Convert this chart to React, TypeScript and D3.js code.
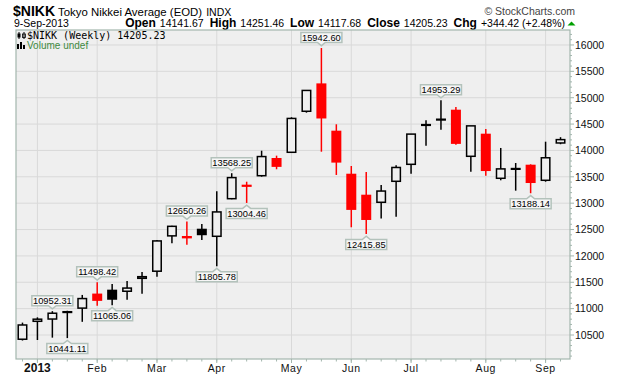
import React from "react";
import * as d3 from "d3";

const weeks = [
  "2012-12-31", "2013-01-07", "2013-01-14", "2013-01-21", "2013-01-28",
  "2013-02-04", "2013-02-11", "2013-02-18", "2013-02-25",
  "2013-03-04", "2013-03-11", "2013-03-18", "2013-03-25",
  "2013-04-01", "2013-04-08", "2013-04-15", "2013-04-22", "2013-04-29",
  "2013-05-06", "2013-05-13", "2013-05-20", "2013-05-27",
  "2013-06-03", "2013-06-10", "2013-06-17", "2013-06-24",
  "2013-07-01", "2013-07-08", "2013-07-15", "2013-07-22", "2013-07-29",
  "2013-08-05", "2013-08-12", "2013-08-19", "2013-08-26",
  "2013-09-02", "2013-09-09",
];
const opens = [
  10420, 10760, 10803, 10950, 11010,
  11280, 11354, 11330, 11575,
  11710, 12380, 12372, 12510,
  12372, 13085, 13345, 13521, 13851,
  13965, 14743, 15266, 14369,
  13553, 13155, 13017, 13415,
  13737, 14498, 14600, 14767, 13889,
  14312, 13472, 13665, 13724,
  13434, 14141.67,
];
const highs = [
  10735, 10835, 10952.31, 10960, 11260,
  11498.42, 11467, 11525, 11695,
  12300, 12570, 12650.26, 12605,
  13225, 13568.25, 13407, 13995, 13901,
  14629, 15141, 15942.6, 14496,
  13705, 13591, 13345, 13718,
  14310, 14572, 14953.29, 14824, 14460,
  14407, 14047, 13762, 13737,
  14166, 14251.46,
];
const lows = [
  10395, 10405, 10450, 10441.11, 10750,
  11055, 11065.06, 11170, 11280,
  11605, 12240, 12213, 12302,
  11805.78, 13074, 13004.46, 13502, 13643,
  13957, 14716, 13976, 13535,
  12543, 12415.85, 12710, 12744,
  13559, 14090, 14394, 14109, 13597,
  13521, 13434, 13237, 13188.14,
  13407, 14117.68,
];
const closes = [
  10690, 10800, 10913, 10927, 11191,
  11153, 11174, 11390, 11606,
  12284, 12561, 12338, 12398,
  12834, 13485, 13316, 13884, 13694,
  14607, 15138, 14612, 13775,
  12878, 12687, 13230, 13677,
  14310, 14472, 14590, 14130, 14466,
  13615, 13650, 13660, 13388,
  13861, 14205.23,
];
const yTicks = [10500, 11000, 11500, 12000, 12500, 13000, 13500, 14000, 14500, 15000, 15500, 16000];
const highCallouts = [2, 5, 11, 14, 20, 28];
const lowCallouts = [3, 6, 13, 15, 23, 34];

const symbol = "$NIKK";
const fullName = "Tokyo Nikkei Average (EOD)";
const exchange = "INDX";
const dateLabel = "9-Sep-2013";
const quoteLabels = ["Open", "High", "Low", "Close", "Chg"];
const quoteValues = ["14141.67", "14251.46", "14117.68", "14205.23", "+344.42 (+2.48%)"];
const legendMain = "$NIKK (Weekly) 14205.23";
const legendVolume = "Volume undef";
const copyright = "\u00A9 StockCharts.com";

const W = 620;
const H = 376;
const PL = 16, PR = 570, PT = 30, PB = 359;
const BG = "#efefef";
const FRAME = "#a3b6ad";
const GRID = "#d9d9d9";
const RED = "#ff0000";

export default function App() {
  const parse = d3.timeParse("%Y-%m-%d");
  const dates = weeks.map((w) => parse(w) as Date);
  const x = d3.scaleBand<string>().domain(weeks).range([15, 568]).padding(0);
  const cx = (i: number) => (x(weeks[i]) as number) + x.bandwidth() / 2;
  const y = d3.scaleLinear().domain([10045, 16284]).range([PB, PT]);

  const minorTicks = d3.range(10100, 16284, 100).filter((v) => v % 500 !== 0);

  const monthMarks: { i: number; label: string; bold: boolean }[] = [];
  dates.forEach((d, i) => {
    if (i === 0) return;
    if (d.getMonth() !== dates[i - 1].getMonth()) {
      if (d.getMonth() === 0) monthMarks.push({ i, label: d3.timeFormat("%Y")(d), bold: true });
      else monthMarks.push({ i, label: d3.timeFormat("%b")(d), bold: false });
    }
  });

  const fmt = d3.format(".2f");
  const bodyW = 10;

  const candles = weeks.map((w, i) => {
    const o = opens[i], c = closes[i], h = highs[i], l = lows[i];
    const prev = i > 0 ? closes[i - 1] : o;
    const color = i > 0 && c < prev ? RED : "#000";
    const hollow = c > o;
    const X = cx(i);
    const top = y(Math.max(o, c));
    const bot = y(Math.min(o, c));
    const bh = Math.max(bot - top, 1.6);
    return (
      <g key={w}>
        <line x1={X} x2={X} y1={y(h)} y2={y(l)} stroke={color} strokeWidth={1.5} />
        {hollow ? (
          <rect x={X - bodyW / 2 + 0.75} y={top} width={bodyW - 1.5} height={bh} fill={BG} stroke={color} strokeWidth={1.5} />
        ) : (
          <rect x={X - bodyW / 2} y={top - 0.3} width={bodyW} height={bh + 0.6} fill={color} />
        )}
      </g>
    );
  });

  const callout = (i: number, up: boolean) => {
    const X = cx(i);
    const v = up ? highs[i] : lows[i];
    const tip = y(v);
    const bw = 41, bh = 10;
    let d: string;
    let ty: number;
    if (up) {
      const bottom = tip - 5.5;
      const top = bottom - bh;
      d = `M${X - bw / 2},${top}H${X + bw / 2}V${bottom}H${X + 4}L${X},${bottom + 3.2}L${X - 4},${bottom}H${X - bw / 2}Z`;
      ty = bottom - 1.8;
    } else {
      const top = tip + 5.5;
      const bottom = top + bh;
      d = `M${X - bw / 2},${top}H${X - 4}L${X},${top - 3.2}L${X + 4},${top}H${X + bw / 2}V${bottom}H${X - bw / 2}Z`;
      ty = bottom - 1.8;
    }
    return (
      <g key={`c${i}${up}`}>
        <path d={d} fill="#f6f6f6" stroke="#b3c2bb" strokeWidth={1.5} />
        <text x={X} y={ty} textAnchor="middle" fontFamily="Liberation Sans, Arial, sans-serif" fontSize={9.3} fill="#000">
          {fmt(v)}
        </text>
      </g>
    );
  };

  return (
    <svg width={W} height={H} style={{ position: "absolute", left: 0, top: 0, background: "#fff" }} fontFamily="Liberation Sans, Arial, sans-serif">
      {/* header */}
      <text x={13} y={15.5} fontSize={14} fontWeight="bold" fill="#000">{symbol}</text>
      <text x={58} y={15.5} fontSize={11.4} fill="#000">
        {fullName}
        <tspan dx={4} fontSize={10.5}>{exchange}</tspan>
      </text>
      <text x={575} y={15} fontSize={10.5} fill="#444" textAnchor="end">{copyright}</text>
      <text x={14} y={27} fontSize={10.5} fill="#000">{dateLabel}</text>
      <text x={565} y={27} fontSize={10.5} fill="#000" textAnchor="end">
        {quoteLabels.map((lab, k) => (
          <React.Fragment key={lab}>
            <tspan fontWeight="bold" fontSize={12} dx={k === 0 ? 0 : 6}>{lab}</tspan>
            <tspan dx={4}>{quoteValues[k]}</tspan>
          </React.Fragment>
        ))}
      </text>
      <path d="M567.5,25.5L571.5,21.5L575.5,25.5Z" fill="#00a000" />

      {/* plot area */}
      <rect x={PL} y={PT} width={PR - PL} height={PB - PT} fill={BG} />
      {yTicks.map((t) => (
        <line key={t} x1={PL} x2={PR} y1={y(t)} y2={y(t)} stroke={GRID} strokeWidth={1} />
      ))}
      {monthMarks.map((m) => (
        <line key={m.label} x1={cx(m.i)} x2={cx(m.i)} y1={PT} y2={PB} stroke={GRID} strokeWidth={1} />
      ))}

      {/* legend */}
      <g>
        <line x1={19} x2={19} y1={32} y2={39} stroke="#000" strokeWidth={1} />
        <rect x={17.5} y={33.5} width={3} height={4} fill="#000" />
        <line x1={24} x2={24} y1={32} y2={39} stroke="#000" strokeWidth={1} />
        <rect x={22.5} y={34} width={3} height={3.5} fill="none" stroke="#000" strokeWidth={0.8} />
        <text x={27} y={38.5} fontFamily="DejaVu Sans Mono, monospace" fontSize={10} fill="#000">{legendMain}</text>
        <rect x={17} y={44} width={2} height={5} fill="#000" />
        <rect x={20} y={42} width={2} height={7} fill="#000" />
        <rect x={23} y={45} width={2} height={4} fill="#000" />
        <text x={27} y={48.5} fontSize={10} fill="#3f8a3f">{legendVolume}</text>
      </g>

      {candles}
      {highCallouts.map((i) => callout(i, true))}
      {lowCallouts.map((i) => callout(i, false))}

      {/* frame */}
      <rect x={PL} y={PT} width={PR - PL} height={PB - PT} fill="none" stroke={FRAME} strokeWidth={1.2} />

      {/* y axis */}
      {minorTicks.map((t) => (
        <line key={t} x1={PR} x2={PR + 2} y1={y(t)} y2={y(t)} stroke={FRAME} strokeWidth={1} />
      ))}
      {yTicks.map((t) => (
        <g key={t}>
          <line x1={PR} x2={PR + 4} y1={y(t)} y2={y(t)} stroke={FRAME} strokeWidth={1} />
          <text x={575} y={y(t) + 3.8} fontSize={10.5} fill="#111">{t}</text>
        </g>
      ))}

      {/* x axis */}
      {weeks.map((w, i) => (
        <line key={w} x1={cx(i)} x2={cx(i)} y1={PB} y2={PB + 2.5} stroke={FRAME} strokeWidth={1} />
      ))}
      {monthMarks.map((m) => (
        <g key={m.label}>
          <line x1={cx(m.i)} x2={cx(m.i)} y1={PB} y2={PB + 4} stroke={FRAME} strokeWidth={1} />
          <text x={cx(m.i)} y={371.5} textAnchor="middle" fontSize={m.bold ? 12 : 10.5} fontWeight={m.bold ? "bold" : "normal"} letterSpacing={m.bold ? 0 : 0.6} fill="#111">
            {m.label}
          </text>
        </g>
      ))}
    </svg>
  );
}
